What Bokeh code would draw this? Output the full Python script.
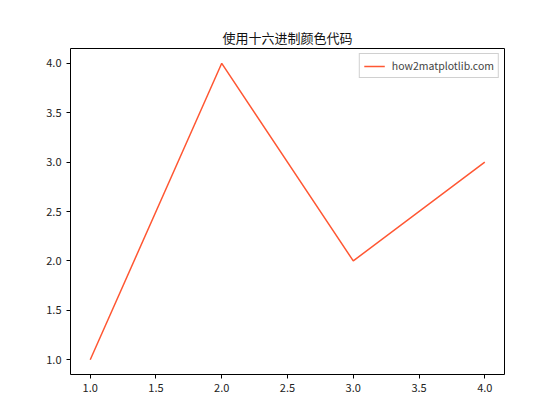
from bokeh.plotting import figure
from bokeh.models import FixedTicker, NumeralTickFormatter, Range1d, Legend, LegendItem
from bokeh.embed import file_html
from bokeh.resources import INLINE

x_values = [1, 2, 3, 4]
y_values = [1, 4, 2, 3]
x_ticks = [1.0, 1.5, 2.0, 2.5, 3.0, 3.5, 4.0]
y_ticks = [1.0, 1.5, 2.0, 2.5, 3.0, 3.5, 4.0]
series_label = "how2matplotlib.com"
title_text = "使用十六进制颜色代码"

FONT = "Noto Sans CJK SC"

p = figure(width=552, height=412, output_backend="svg", toolbar_location=None,
           x_range=Range1d(0.85, 4.15), y_range=Range1d(0.85, 4.15),
           min_border_left=70, min_border_right=48, min_border_top=48, min_border_bottom=38)

r = p.line(x_values, y_values, line_color="#FF5733", line_width=1.5)

p.title.text = title_text
p.title.align = "center"
p.title.text_font = FONT
p.title.text_font_size = "13px"
p.title.text_font_style = "normal"
p.title.text_color = "#111111"
p.title.offset = 0
p.title.standoff = 3

p.xgrid.visible = False
p.ygrid.visible = False
p.outline_line_color = "black"
p.outline_line_width = 1

for ax, ticks in ((p.xaxis[0], x_ticks), (p.yaxis[0], y_ticks)):
    ax.ticker = FixedTicker(ticks=ticks)
    ax.formatter = NumeralTickFormatter(format="0.0")
    ax.major_label_text_font = FONT
    ax.major_label_text_font_size = "11px"
    ax.major_label_text_color = "#222222"
    ax.major_tick_out = 4
    ax.major_tick_in = 0
    ax.minor_tick_out = 0
    ax.minor_tick_in = 0
    ax.axis_line_color = None
    ax.major_tick_line_color = "black"

legend = Legend(items=[LegendItem(label=series_label, renderers=[r])], location="top_right")
legend.label_text_font = FONT
legend.label_text_font_size = "10.5px"
legend.border_line_color = "#d0d0d0"
legend.border_line_alpha = 1
legend.background_fill_alpha = 0.8
legend.glyph_width = 21
legend.glyph_height = 14
legend.padding = 4
legend.spacing = 0
legend.margin = 5
legend.label_standoff = 7
legend.label_height = 14
p.add_layout(legend)

open("out.html", "w").write(file_html(p, INLINE))
